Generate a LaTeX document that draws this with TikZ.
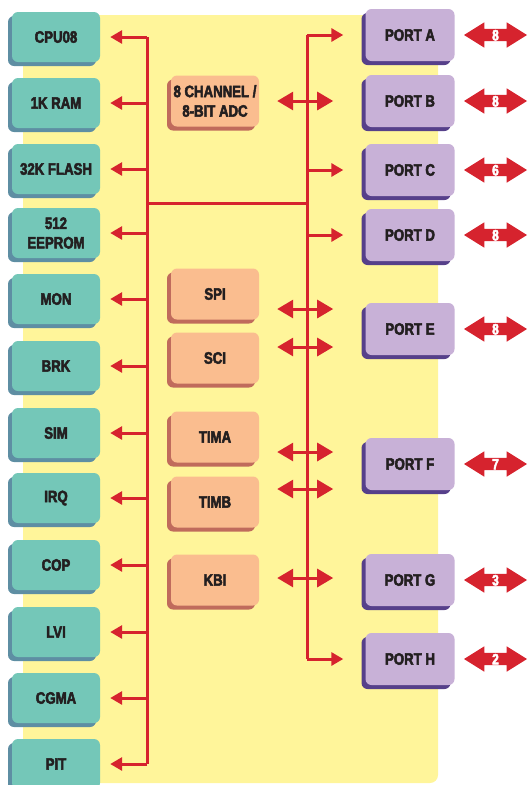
\documentclass[tikz,border=0pt]{standalone}
\usepackage{fontspec}
\setmainfont{Liberation Sans Bold}[FakeStretch=0.8,FakeBold=3]
\usetikzlibrary{shadows,shapes.arrows,arrows.meta}
\definecolor{bgyellow}{HTML}{FFF59A}
\definecolor{grn}{HTML}{74C7B8}
\definecolor{grnsh}{HTML}{5E8EA3}
\definecolor{org}{HTML}{FABD8F}
\definecolor{orgsh}{HTML}{C06B5C}
\definecolor{pur}{HTML}{C8B1D7}
\definecolor{pursh}{HTML}{56408A}
\definecolor{busred}{HTML}{D6232E}
\definecolor{txt}{HTML}{231F20}
\tikzset{
  box/.style={rounded corners=6pt, minimum width=88pt, minimum height=50pt,
    inner sep=0pt, align=center, text=txt,
    font=\fontsize{16.5}{19.5}\selectfont},
  grnbox/.style={box, fill=grn,
    drop shadow={shadow xshift=-4pt, shadow yshift=-4pt, fill=grnsh, opacity=1}},
  orgbox/.style={box, fill=org, minimum height=51pt,
    drop shadow={shadow xshift=-4pt, shadow yshift=-4pt, fill=orgsh, opacity=1}},
  purbox/.style={box, fill=pur, minimum width=89pt, minimum height=52pt,
    drop shadow={shadow xshift=-4pt, shadow yshift=-4pt, fill=pursh, opacity=1}},
  portarrow/.style={double arrow, fill=busred, minimum height=63pt,
    double arrow head extend=6.5pt, double arrow tip angle=64,
    inner xsep=2pt, inner ysep=0.6pt, text height=10.8pt, text depth=0pt,
    text=white, font=\fontsize{15}{15}\selectfont},
  bus/.style={draw=busred, line width=3pt},
  arr/.style={bus, -{Triangle[length=12pt,width=13pt]}},
  dbl/.style={bus, {Triangle[length=16pt,width=18pt]}-{Triangle[length=16pt,width=18pt]}}
}
\begin{document}
\begin{tikzpicture}[x=1pt,y=-1pt]
\useasboundingbox (0,0) rectangle (528,785);
\fill[bgyellow, rounded corners=8pt] (23,15) rectangle (438,783);

% left column
\node[grnbox] (cpu)    at (56,37)  {CPU08};
\node[grnbox] (ram)    at (56,103) {1K RAM};
\node[grnbox] (flash)  at (56,169) {32K FLASH};
\node[grnbox] (eeprom) at (56,233) {512\\EEPROM};
\node[grnbox] (mon)    at (56,299) {MON};
\node[grnbox] (brk)    at (56,366) {BRK};
\node[grnbox] (sim)    at (56,433) {SIM};
\node[grnbox] (irq)    at (56,498) {IRQ};
\node[grnbox] (cop)    at (56,565) {COP};
\node[grnbox] (lvi)    at (56,632) {LVI};
\node[grnbox] (cgma)   at (56,698) {CGMA};
\node[grnbox] (pit)    at (56,764) {PIT};

% middle column
\node[orgbox] (adc)  at (215,101) {8 CHANNEL /\\8-BIT ADC};
\node[orgbox] (spi)  at (215,294) {SPI};
\node[orgbox] (sci)  at (215,358) {SCI};
\node[orgbox] (tima) at (215,437) {TIMA};
\node[orgbox] (timb) at (215,502) {TIMB};
\node[orgbox] (kbi)  at (215,580) {KBI};

% ports
\node[purbox] (pa) at (410,35)  {PORT A};
\node[purbox] (pb) at (410,101) {PORT B};
\node[purbox] (pc) at (410,170) {PORT C};
\node[purbox] (pd) at (410,235) {PORT D};
\node[purbox] (pe) at (410,329) {PORT E};
\node[purbox] (pf) at (410,464) {PORT F};
\node[purbox] (pg) at (410,580) {PORT G};
\node[purbox] (ph) at (410,659) {PORT H};

% port pin arrows
\node[portarrow] (na) at (495.5,35)  {8};
\node[portarrow] (nb) at (495.5,101) {8};
\node[portarrow] (nc) at (495.5,170) {6};
\node[portarrow] (nd) at (495.5,235) {8};
\node[portarrow] (ne) at (495.5,329) {8};
\node[portarrow] (nf) at (495.5,464) {7};
\node[portarrow] (ng) at (495.5,580) {3};
\node[portarrow] (nh) at (495.5,659) {2};

% buses
\coordinate (lb) at (147,0);
\coordinate (rb) at (307,0);
\coordinate (join) at (147,203);
\draw[bus] (cpu -| lb) -- (pit -| lb);
\draw[bus] (pa -| rb) -- (ph -| rb);
\draw[bus] (join) -- (join -| rb);

\foreach \n in {cpu,ram,flash,eeprom,mon,brk,sim,irq,cop,lvi,cgma,pit}
  \draw[arr] (\n -| lb) -- ([xshift=10pt]\n.east);
\foreach \n in {pa,pc,pd,ph}
  \draw[arr] (\n -| rb) -- ([xshift=-22pt]\n.west);

% peripheral double arrows across the right bus
\draw[dbl] ([xshift=18pt]adc.east) -- ([xshift=74pt]adc.east);
\draw[dbl] ([shift={(18,15)}]spi.east) -- ([shift={(74,15)}]spi.east);
\draw[dbl] ([shift={(18,-11)}]sci.east) -- ([shift={(74,-11)}]sci.east);
\draw[dbl] ([shift={(18,15)}]tima.east) -- ([shift={(74,15)}]tima.east);
\draw[dbl] ([shift={(18,-13)}]timb.east) -- ([shift={(74,-13)}]timb.east);
\draw[dbl] ([shift={(18,-2)}]kbi.east) -- ([shift={(74,-2)}]kbi.east);
\end{tikzpicture}
\end{document}
